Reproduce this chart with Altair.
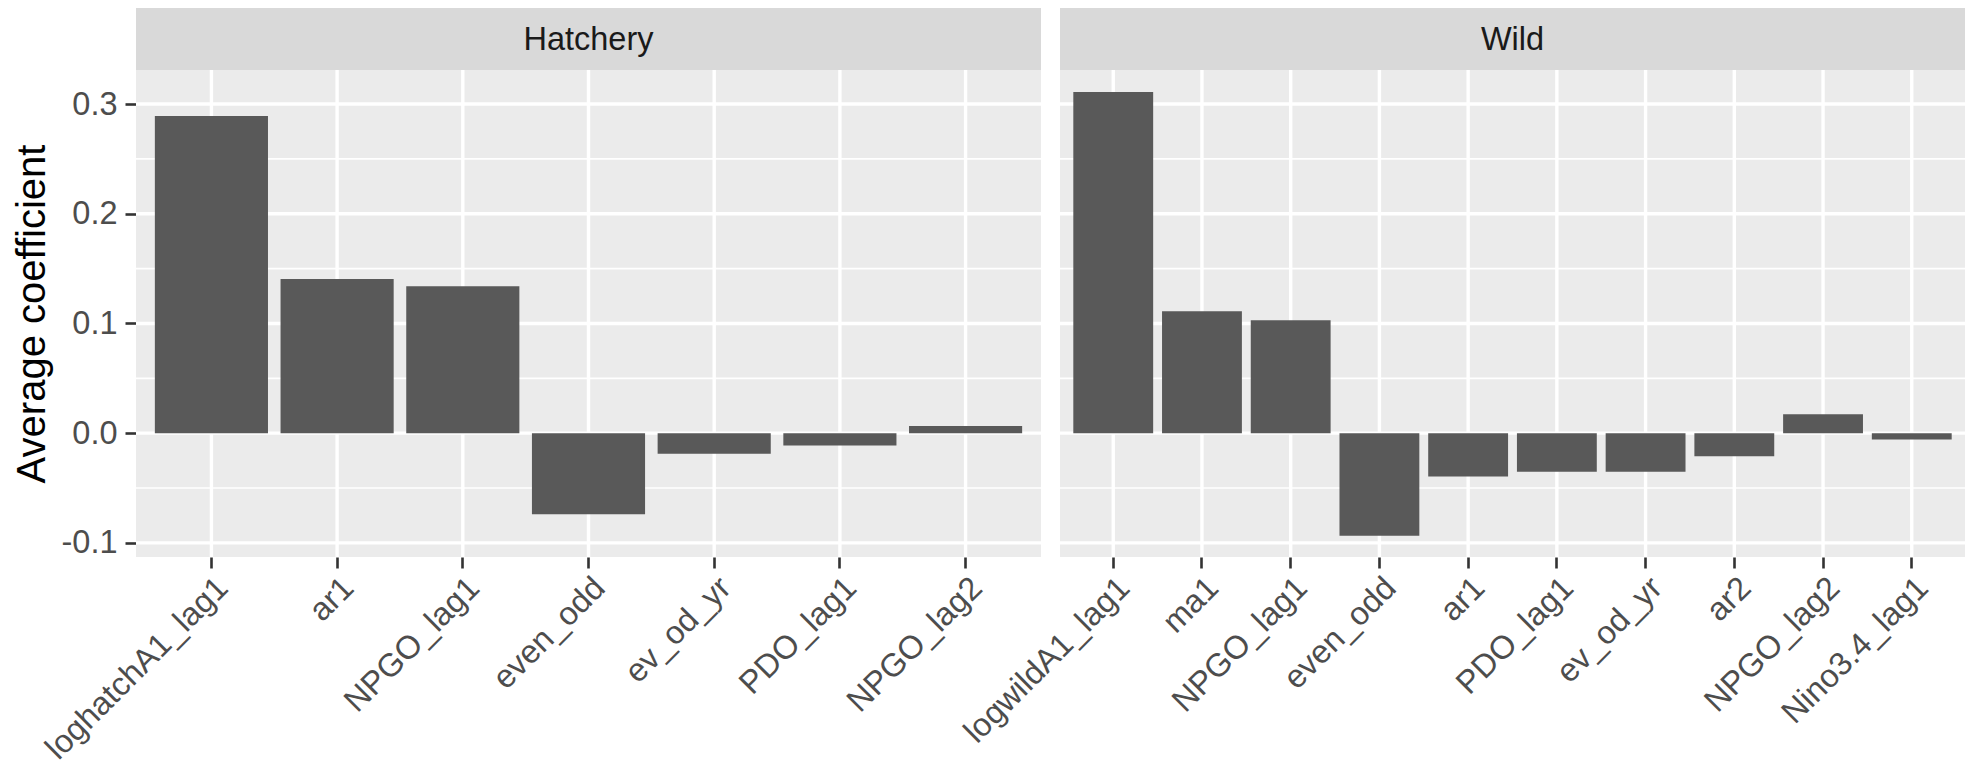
import altair as alt
import pandas as pd

hatch_vars = ["loghatchA1_lag1", "ar1", "NPGO_lag1", "even_odd", "ev_od_yr", "PDO_lag1", "NPGO_lag2"]
hatch_vals = [0.289, 0.1405, 0.134, -0.074, -0.0189, -0.0113, 0.0065]

wild_vars = ["logwildA1_lag1", "ma1", "NPGO_lag1", "even_odd", "ar1", "PDO_lag1", "ev_od_yr", "ar2", "NPGO_lag2", "Nino3.4_lag1"]
wild_vals = [0.311, 0.111, 0.103, -0.0936, -0.0395, -0.0353, -0.0353, -0.021, 0.0172, -0.0058]

major_breaks = [-0.1, 0.0, 0.1, 0.2, 0.3]
minor_breaks = [-0.05, 0.05, 0.15, 0.25]
y_domain = [-0.1129, 0.331]

W = 905
STRIP = 62
H = 549  # strip + panel
FONT = "Liberation Sans"
FS = 32.5

def panel(name, variables, values, show_y):
    bars_df = pd.DataFrame({"variable": variables, "v": values})
    major_df = pd.DataFrame({"v": major_breaks})
    minor_df = pd.DataFrame({"v": minor_breaks})
    one = pd.DataFrame({"label": [name]})

    xscale = alt.Scale(domain=variables, paddingInner=0.1, paddingOuter=0.15)
    yscale = alt.Scale(domain=y_domain, range=[H, STRIP], nice=False, zero=False)

    if show_y:
        yaxis = alt.Axis(
            values=major_breaks,
            labelExpr="replace(format(datum.value, '.1f'), '\u2212', '-')",
            grid=False, domain=False,
            tickColor="#333333", tickWidth=2.6, tickSize=11,
            labelColor="#4D4D4D", labelFontSize=FS, labelFont=FONT, labelPadding=8,
            title="Average coefficient", titleFontSize=40, titleFont=FONT,
            titleFontWeight="normal", titleColor="#000000", titlePadding=8,
        )
    else:
        yaxis = None

    xaxis = alt.Axis(
        title=None, grid=False, domain=False, bandPosition=0.5,
        tickColor="#333333", tickWidth=2.6, tickSize=11,
        labelColor="#4D4D4D", labelFontSize=FS, labelFont=FONT,
        labelAngle=-45, labelAlign="right", labelBaseline="top",
        labelPadding=3, labelLimit=0,
    )

    bg = alt.Chart(one).mark_rect(color="#EBEBEB").encode(
        x=alt.value(0), x2=alt.value(W), y=alt.value(STRIP), y2=alt.value(H)
    )
    minor = alt.Chart(minor_df).mark_rule(color="white", strokeWidth=1.7).encode(
        y=alt.Y("v:Q", scale=yscale, axis=yaxis)
    )
    major = alt.Chart(major_df).mark_rule(color="white", strokeWidth=3.4).encode(
        y=alt.Y("v:Q", scale=yscale, axis=yaxis)
    )
    vgrid = alt.Chart(bars_df).mark_rule(color="white", strokeWidth=3.4).encode(
        x=alt.X("variable:N", scale=xscale, axis=xaxis, sort=variables),
        y=alt.value(STRIP), y2=alt.value(H),
    )
    bars = alt.Chart(bars_df).mark_bar(color="#595959").encode(
        x=alt.X("variable:N", scale=xscale, axis=xaxis, sort=variables),
        y=alt.Y("v:Q", scale=yscale, axis=yaxis),
        y2=alt.datum(0),
    )
    strip = alt.Chart(one).mark_rect(color="#D9D9D9").encode(
        x=alt.value(0), x2=alt.value(W), y=alt.value(0), y2=alt.value(STRIP)
    )
    text = alt.Chart(one).mark_text(
        fontSize=FS, font=FONT, color="#1A1A1A", baseline="middle", align="center"
    ).encode(x=alt.value(W / 2), y=alt.value(STRIP / 2 + 1), text="label:N")

    return alt.layer(bg, minor, major, vgrid, bars, strip, text).properties(width=W, height=H)

left = panel("Hatchery", hatch_vars, hatch_vals, True)
right = panel("Wild", wild_vars, wild_vals, False)

chart = alt.hconcat(left, right, spacing=19, bounds="flush").properties(
    padding={"left": 4, "top": 0, "right": 0, "bottom": 0}, background="white"
).configure_view(stroke=None, strokeWidth=0)

chart.save("out.html", embed_options={"renderer": "svg", "actions": False})
